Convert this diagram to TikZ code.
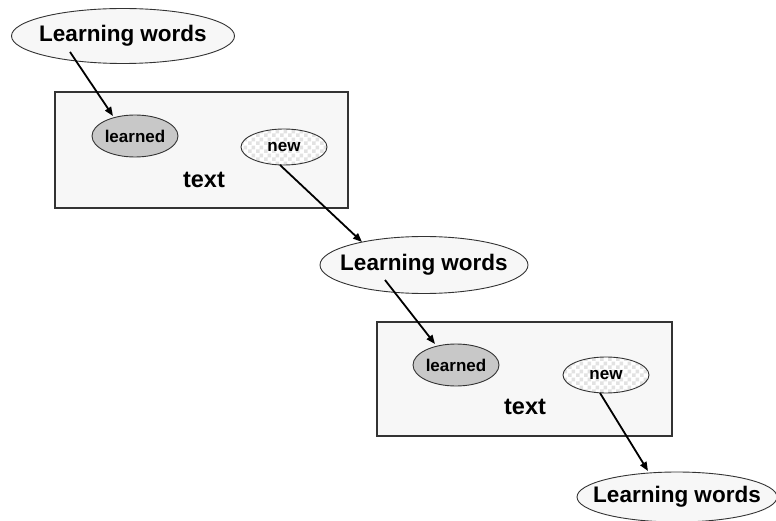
\documentclass[tikz,border=0pt]{standalone}
\usepackage{fontspec}
\setmainfont{Liberation Sans}
\usetikzlibrary{shapes.geometric,arrows.meta,patterns.meta,calc}
\pgfdeclarepattern{name=mychecker, type=uncolored, bottom left={\pgfpoint{0pt}{0pt}}, top right={\pgfpoint{8pt}{8pt}}, tile size={\pgfpoint{8pt}{8pt}}, code={\pgfpathrectangle{\pgfpoint{0pt}{0pt}}{\pgfpoint{4pt}{4pt}}\pgfpathrectangle{\pgfpoint{4pt}{4pt}}{\pgfpoint{4pt}{4pt}}\pgfusepath{fill}}}
\definecolor{boxfill}{HTML}{F7F7F7}
\definecolor{edge}{HTML}{333333}
\definecolor{learnfill}{HTML}{C8C8C8}
\definecolor{checkgray}{HTML}{E2E2E2}
\tikzset{
  bigell/.style={ellipse, draw=edge, line width=0.9pt, fill=boxfill, inner sep=0pt,
    label={[font=\bfseries\fontsize{22.5}{24}\selectfont, inner sep=0pt]center:Learning words}},
  textbox/.style={rectangle, draw=edge, line width=1.2pt, fill=boxfill, inner sep=0pt},
  learnell/.style={ellipse, draw=edge, line width=0.9pt, fill=learnfill, inner sep=0pt, minimum width=86pt, minimum height=42pt, font=\bfseries\fontsize{17}{18}\selectfont},
  newell/.style={ellipse, draw=edge, line width=0.9pt, preaction={fill=white}, pattern={mychecker}, pattern color=checkgray, inner sep=0pt, minimum width=86pt, minimum height=36pt, font=\bfseries\fontsize{17}{18}\selectfont},
  boxlabel/.style={font=\bfseries\fontsize{23.5}{26}\selectfont},
  link/.style={line width=1.8pt, -{Triangle[length=9pt,width=7pt]}}
}
\begin{document}
\begin{tikzpicture}[x=1pt,y=-1pt]
\useasboundingbox (0,0) rectangle (776,521);
% first level
\node[bigell, minimum width=223pt, minimum height=55pt] (lw1) at (123,36) {};
\node[textbox, minimum width=293pt, minimum height=116pt] (box1) at (201.5,150) {};
\node[learnell] (l1) at (135,136) {learned};
\node[newell] (n1) at (284,147) {new};
\node[boxlabel] (t1) at (204,180) {text};
% second level
\node[bigell, minimum width=208pt, minimum height=57pt] (lw2) at (424,265) {};
\node[textbox, minimum width=295pt, minimum height=114pt] (box2) at (524.5,379) {};
\node[learnell] (l2) at (456,365) {learned};
\node[newell] (n2) at (606,375) {new};
\node[boxlabel] (t2) at (525,407) {text};
% third level
\node[bigell, minimum width=200pt, minimum height=50pt] (lw3) at (677,497) {};
% connectors
\draw[link] ($(lw1.center)+(-53,16)$) -- ($(l1.center)+(-22,-20)$);
\draw[link] ($(n1.center)+(-4,18)$) -- ($(lw2.center)+(-62,-23)$);
\draw[link] ($(lw2.center)+(-39,15)$) -- ($(l2.center)+(-21,-21)$);
\draw[link] ($(n2.center)+(-6,18)$) -- ($(lw3.center)+(-29,-26)$);
\end{tikzpicture}
\end{document}
